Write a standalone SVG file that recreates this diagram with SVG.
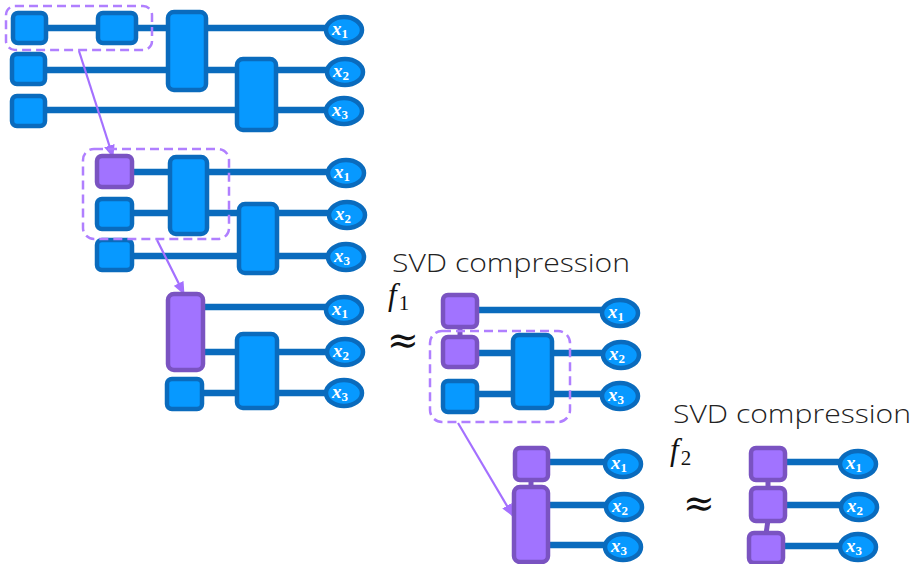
<svg xmlns="http://www.w3.org/2000/svg" width="914" height="564" viewBox="0 0 914 564">
<defs>
<style>
.b{fill:#0799ff;stroke:#0a6bbd;stroke-width:4.5}
.p{fill:#a173ff;stroke:#7a53c1;stroke-width:4.5}
.w{stroke:#0a6bbd;stroke-width:6.5;fill:none}
.pc{stroke:#7a53c1;stroke-width:5;fill:none}
.e{fill:#0799ff;stroke:#0a6bbd;stroke-width:4.5}
.d{fill:none;stroke:#b07fff;stroke-width:2.5;stroke-dasharray:9 5}
.a{stroke:#a470ff;stroke-width:2.2;fill:none}
.x{font-family:"Liberation Serif",serif;font-style:italic;font-weight:bold;fill:#fff;font-size:19px}
.s{font-size:13px;font-style:normal}
.t{font-family:"Open Sans","Lato",sans-serif;font-weight:300;font-size:25px;fill:#222}
.f{font-family:"Liberation Serif",serif;font-style:italic;font-size:31px;fill:#111}
.fs{font-style:normal;font-size:21px}
.ap{font-family:"DejaVu Serif",serif;font-size:38px;fill:#111}
</style>
<marker id="ah" viewBox="0 0 12 10" refX="11" refY="5" markerWidth="13" markerHeight="11" markerUnits="userSpaceOnUse" orient="auto">
<path d="M0,0 L12,5 L0,10 Z" fill="#a470ff"/>
</marker>
</defs>

<g id="connectors">
<line class="w" x1="45" y1="28" x2="330" y2="28"/>
<line class="w" x1="45" y1="70" x2="330" y2="70"/>
<line class="w" x1="45" y1="110" x2="330" y2="110"/>
<line class="w" x1="132" y1="172" x2="332" y2="172"/>
<line class="w" x1="132" y1="213" x2="332" y2="213"/>
<line class="w" x1="132" y1="256" x2="332" y2="256"/>
<line class="w" x1="203" y1="307" x2="330" y2="307"/>
<line class="w" x1="203" y1="352" x2="330" y2="352"/>
<line class="w" x1="202" y1="393" x2="330" y2="393"/>
<line class="w" x1="477" y1="310" x2="606" y2="310"/>
<line class="w" x1="477" y1="353" x2="606" y2="353"/>
<line class="w" x1="477" y1="394" x2="606" y2="394"/>
<line class="pc" x1="460" y1="326" x2="460" y2="338"/>
<line class="w" x1="548" y1="462" x2="610" y2="462"/>
<line class="w" x1="548" y1="505" x2="610" y2="505"/>
<line class="w" x1="548" y1="545" x2="610" y2="545"/>
<line class="pc" x1="531" y1="479" x2="531" y2="488"/>
<line class="w" x1="785" y1="462" x2="845" y2="462"/>
<line class="w" x1="785" y1="505" x2="845" y2="505"/>
<line class="w" x1="783" y1="546" x2="845" y2="546"/>
<line class="pc" x1="768" y1="479" x2="768" y2="488"/>
<line class="pc" x1="768" y1="520" x2="766" y2="534"/>
<line class="a" x1="79" y1="51" x2="113" y2="157" marker-end="url(#ah)"/>
<line class="a" x1="157" y1="240" x2="184" y2="294" marker-end="url(#ah)"/>
<line class="a" x1="458" y1="423" x2="513" y2="516" marker-end="url(#ah)"/>
</g>

<g id="p1-sq1"><rect class="b" x="13" y="13" width="33" height="30" rx="5"/></g>
<g id="p1-sq2"><rect class="b" x="98" y="13" width="38" height="30" rx="5"/></g>
<g id="p1-sq3"><rect class="b" x="12" y="54" width="33" height="30" rx="5"/></g>
<g id="p1-sq4"><rect class="b" x="12" y="96" width="33" height="30" rx="5"/></g>
<g id="p1-blkA"><rect class="b" x="168" y="12" width="38" height="78" rx="6"/></g>
<g id="p1-blkB"><rect class="b" x="237" y="59" width="39" height="71" rx="6"/></g>
<g id="p1-x1"><ellipse class="e" cx="344" cy="30" rx="18" ry="13"/><text class="x" x="332" y="35">x<tspan class="s" dy="3">1</tspan></text></g>
<g id="p1-x2"><ellipse class="e" cx="345" cy="72" rx="18" ry="13"/><text class="x" x="333" y="77">x<tspan class="s" dy="3">2</tspan></text></g>
<g id="p1-x3"><ellipse class="e" cx="344" cy="111" rx="18" ry="13"/><text class="x" x="332" y="116">x<tspan class="s" dy="3">3</tspan></text></g>
<g id="p1-box"><rect class="d" x="6" y="6" width="146" height="44" rx="9"/></g>

<g id="p2-sq1"><rect class="p" x="97" y="156" width="35" height="31" rx="5"/></g>
<g id="p2-sq2"><rect class="b" x="97" y="199" width="35" height="30" rx="5"/></g>
<g id="p2-sq3"><rect class="b" x="97" y="240" width="35" height="30" rx="5"/></g>
<g id="p2-blkA"><rect class="b" x="170" y="157" width="37" height="77" rx="6"/></g>
<g id="p2-blkB"><rect class="b" x="239" y="204" width="38" height="69" rx="6"/></g>
<g id="p2-x1"><ellipse class="e" cx="346" cy="173" rx="18" ry="13"/><text class="x" x="334" y="178">x<tspan class="s" dy="3">1</tspan></text></g>
<g id="p2-x2"><ellipse class="e" cx="347" cy="215" rx="18" ry="13"/><text class="x" x="335" y="220">x<tspan class="s" dy="3">2</tspan></text></g>
<g id="p2-x3"><ellipse class="e" cx="346" cy="257" rx="18" ry="13"/><text class="x" x="334" y="262">x<tspan class="s" dy="3">3</tspan></text></g>
<g id="p2-box"><rect class="d" x="83" y="149" width="146" height="90" rx="11"/></g>

<g id="p3-blkP"><rect class="p" x="168" y="294" width="35" height="76" rx="6"/></g>
<g id="p3-sq3"><rect class="b" x="167" y="379" width="35" height="30" rx="5"/></g>
<g id="p3-blkB"><rect class="b" x="237" y="334" width="40" height="74" rx="6"/></g>
<g id="p3-x1"><ellipse class="e" cx="344" cy="310" rx="18" ry="13"/><text class="x" x="332" y="315">x<tspan class="s" dy="3">1</tspan></text></g>
<g id="p3-x2"><ellipse class="e" cx="345" cy="352" rx="18" ry="13"/><text class="x" x="333" y="357">x<tspan class="s" dy="3">2</tspan></text></g>
<g id="p3-x3"><ellipse class="e" cx="344" cy="393" rx="18" ry="13"/><text class="x" x="332" y="398">x<tspan class="s" dy="3">3</tspan></text></g>

<g id="label1">
<text class="t" x="392" y="272" textLength="238" lengthAdjust="spacingAndGlyphs">SVD compression</text>
<text class="f" x="388" y="305">f<tspan class="fs" dx="2" dy="5">1</tspan></text>
<text class="ap" x="403" y="353" text-anchor="middle">≈</text>
</g>

<g id="p4-sq1"><rect class="p" x="443" y="295" width="34" height="32" rx="5"/></g>
<g id="p4-sq2"><rect class="p" x="443" y="337" width="34" height="30" rx="5"/></g>
<g id="p4-sq3"><rect class="b" x="443" y="381" width="34" height="31" rx="5"/></g>
<g id="p4-blkB"><rect class="b" x="513" y="335" width="39" height="73" rx="6"/></g>
<g id="p4-x1"><ellipse class="e" cx="620" cy="313" rx="18" ry="13"/><text class="x" x="608" y="318">x<tspan class="s" dy="3">1</tspan></text></g>
<g id="p4-x2"><ellipse class="e" cx="621" cy="355" rx="18" ry="13"/><text class="x" x="609" y="360">x<tspan class="s" dy="3">2</tspan></text></g>
<g id="p4-x3"><ellipse class="e" cx="620" cy="396" rx="18" ry="13"/><text class="x" x="608" y="401">x<tspan class="s" dy="3">3</tspan></text></g>
<g id="p4-box"><rect class="d" x="430" y="331" width="140" height="91" rx="12"/></g>

<g id="p5-sq1"><rect class="p" x="515" y="448" width="33" height="32" rx="5"/></g>
<g id="p5-blkP"><rect class="p" x="514" y="487" width="34" height="75" rx="6"/></g>
<g id="p5-x1"><ellipse class="e" cx="623" cy="464" rx="18" ry="13"/><text class="x" x="611" y="469">x<tspan class="s" dy="3">1</tspan></text></g>
<g id="p5-x2"><ellipse class="e" cx="624" cy="507" rx="18" ry="13"/><text class="x" x="612" y="512">x<tspan class="s" dy="3">2</tspan></text></g>
<g id="p5-x3"><ellipse class="e" cx="623" cy="547" rx="18" ry="13"/><text class="x" x="611" y="552">x<tspan class="s" dy="3">3</tspan></text></g>

<g id="label2">
<text class="t" x="673" y="423" textLength="238" lengthAdjust="spacingAndGlyphs">SVD compression</text>
<text class="f" x="670" y="460">f<tspan class="fs" dx="2" dy="5">2</tspan></text>
<text class="ap" x="699" y="516" text-anchor="middle">≈</text>
</g>

<g id="p6-sq1"><rect class="p" x="751" y="448" width="34" height="32" rx="5"/></g>
<g id="p6-sq2"><rect class="p" x="751" y="488" width="34" height="33" rx="5"/></g>
<g id="p6-sq3"><rect class="p" x="749" y="533" width="34" height="30" rx="5"/></g>
<g id="p6-x1"><ellipse class="e" cx="858" cy="464" rx="18" ry="13"/><text class="x" x="846" y="469">x<tspan class="s" dy="3">1</tspan></text></g>
<g id="p6-x2"><ellipse class="e" cx="859" cy="507" rx="18" ry="13"/><text class="x" x="847" y="512">x<tspan class="s" dy="3">2</tspan></text></g>
<g id="p6-x3"><ellipse class="e" cx="858" cy="547" rx="18" ry="13"/><text class="x" x="846" y="552">x<tspan class="s" dy="3">3</tspan></text></g>
</svg>
